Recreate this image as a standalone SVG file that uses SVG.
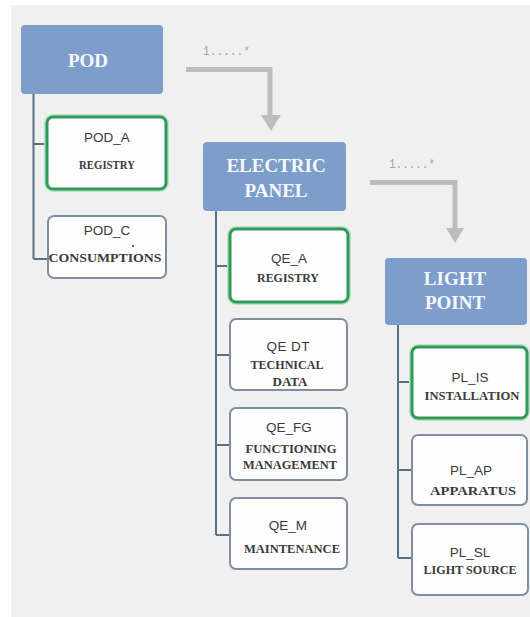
<svg xmlns="http://www.w3.org/2000/svg" width="530" height="617" viewBox="0 0 530 617">
  <defs>
    <style>
      .head { fill: #7d9dcb; }
      .head-t { fill: #f6f8fb; font-family: "Liberation Serif", "DejaVu Serif", serif; font-weight: bold; font-size: 19px; text-anchor: middle; }
      .box { fill: #fdfdfd; stroke: #7f8fa3; stroke-width: 2; }
      .box-key { fill: #fdfdfd; stroke: #2f9a58; stroke-width: 3; }
      .glow { fill: none; stroke: #b9e2c6; stroke-width: 6; }
      .code { fill: #3a3a3a; font-family: "Liberation Sans", Arial, sans-serif; font-size: 13.5px; text-anchor: middle; }
      .desc { fill: #3a3a3a; font-family: "Liberation Serif", "DejaVu Serif", serif; font-weight: bold; font-size: 12.5px; text-anchor: middle; }
      .tree { fill: none; stroke: #5b6f86; stroke-width: 2; }
      .rel { fill: none; stroke: #bdbdbd; stroke-width: 5; }
      .rel-head { fill: #bdbdbd; }
      .mult { fill: #a6a6a6; font-family: "Liberation Mono", "DejaVu Sans Mono", monospace; font-size: 13px; }
    </style>
  </defs>

  <!-- canvas -->
  <rect x="0" y="0" width="530" height="617" fill="#ffffff"/>
  <rect x="11" y="5" width="519" height="612" fill="#f0f0f0"/>

  <!-- connectors: tree lines and multiplicity arrows -->
  <g id="connectors">
    <path class="tree" d="M33.5 94 V259 M33.5 144 H47 M33.5 259 H48"/>
    <path class="tree" d="M216 211 V535 M216 266 H230 M216 355 H230 M216 445 H230 M216 535 H230"/>
    <path class="tree" d="M398 325 V558 M398 382 H412 M398 470 H412 M398 558 H412"/>

    <path class="rel" d="M186 69.5 H270 V116"/>
    <polygon class="rel-head" points="261,115 281,115 271,131"/>
    <text class="mult" x="203" y="55" textLength="47" lengthAdjust="spacingAndGlyphs">1.....*</text>

    <path class="rel" d="M370 182.5 H455 V229"/>
    <polygon class="rel-head" points="446,228 464,228 455,243"/>
    <text class="mult" x="389" y="168" textLength="46" lengthAdjust="spacingAndGlyphs">1.....*</text>
  </g>

  <!-- POD -->
  <g id="pod">
    <rect class="head" x="21" y="25" width="142" height="69" rx="4"/>
    <text class="head-t" x="88" y="67">POD</text>
  </g>
  <g id="pod-a">
    <rect class="glow" x="47" y="117" width="119" height="72" rx="6"/>
    <rect class="box-key" x="47" y="117" width="119" height="72" rx="6"/>
    <text class="code" x="107" y="142">POD_A</text>
    <text class="desc" x="107" y="169" textLength="56" lengthAdjust="spacingAndGlyphs">REGISTRY</text>
  </g>
  <g id="pod-c">
    <rect class="box" x="48" y="216" width="118" height="62" rx="6"/>
    <text class="code" x="107" y="235">POD_C</text>
    <circle cx="133" cy="246" r="1" fill="#333"/>
    <text class="desc" x="105" y="262" textLength="113" lengthAdjust="spacingAndGlyphs">CONSUMPTIONS</text>
  </g>

  <!-- ELECTRIC PANEL -->
  <g id="electric-panel">
    <rect class="head" x="203" y="142" width="143" height="69" rx="4"/>
    <text class="head-t" x="276" y="172">ELECTRIC</text>
    <text class="head-t" x="276" y="197">PANEL</text>
  </g>
  <g id="qe-a">
    <rect class="glow" x="230" y="229" width="118" height="73" rx="6"/>
    <rect class="box-key" x="230" y="229" width="118" height="73" rx="6"/>
    <text class="code" x="289" y="263">QE_A</text>
    <text class="desc" x="288" y="282" textLength="62" lengthAdjust="spacingAndGlyphs">REGISTRY</text>
  </g>
  <g id="qe-dt">
    <rect class="box" x="230" y="319" width="117" height="71" rx="6"/>
    <text class="code" x="288" y="351" textLength="43" lengthAdjust="spacing">QE DT</text>
    <text class="desc" x="287" y="369" textLength="73" lengthAdjust="spacingAndGlyphs">TECHNICAL</text>
    <text class="desc" x="290" y="386" textLength="35" lengthAdjust="spacingAndGlyphs">DATA</text>
  </g>
  <g id="qe-fg">
    <rect class="box" x="230" y="408" width="117" height="72" rx="6"/>
    <text class="code" x="289" y="432">QE_FG</text>
    <text class="desc" x="291" y="453" textLength="91" lengthAdjust="spacingAndGlyphs">FUNCTIONING</text>
    <text class="desc" x="290" y="469" textLength="94" lengthAdjust="spacingAndGlyphs">MANAGEMENT</text>
  </g>
  <g id="qe-m">
    <rect class="box" x="230" y="498" width="117" height="71" rx="6"/>
    <text class="code" x="288" y="530">QE_M</text>
    <text class="desc" x="292" y="553" textLength="96" lengthAdjust="spacingAndGlyphs">MAINTENANCE</text>
  </g>

  <!-- LIGHT POINT -->
  <g id="light-point">
    <rect class="head" x="385" y="258" width="142" height="67" rx="4"/>
    <text class="head-t" x="455" y="285">LIGHT</text>
    <text class="head-t" x="455" y="309">POINT</text>
  </g>
  <g id="pl-is">
    <rect class="glow" x="412" y="347" width="115" height="71" rx="6"/>
    <rect class="box-key" x="412" y="347" width="115" height="71" rx="6"/>
    <text class="code" x="470" y="382">PL_IS</text>
    <text class="desc" x="472" y="400" textLength="95" lengthAdjust="spacingAndGlyphs">INSTALLATION</text>
  </g>
  <g id="pl-ap">
    <rect class="box" x="412" y="435" width="115" height="70" rx="6"/>
    <text class="code" x="471" y="475">PL_AP</text>
    <text class="desc" x="473" y="495" textLength="86" lengthAdjust="spacingAndGlyphs">APPARATUS</text>
  </g>
  <g id="pl-sl">
    <rect class="box" x="412" y="524" width="116" height="71" rx="6"/>
    <text class="code" x="470" y="557">PL_SL</text>
    <text class="desc" x="470" y="574" textLength="93" lengthAdjust="spacingAndGlyphs">LIGHT SOURCE</text>
  </g>
</svg>
